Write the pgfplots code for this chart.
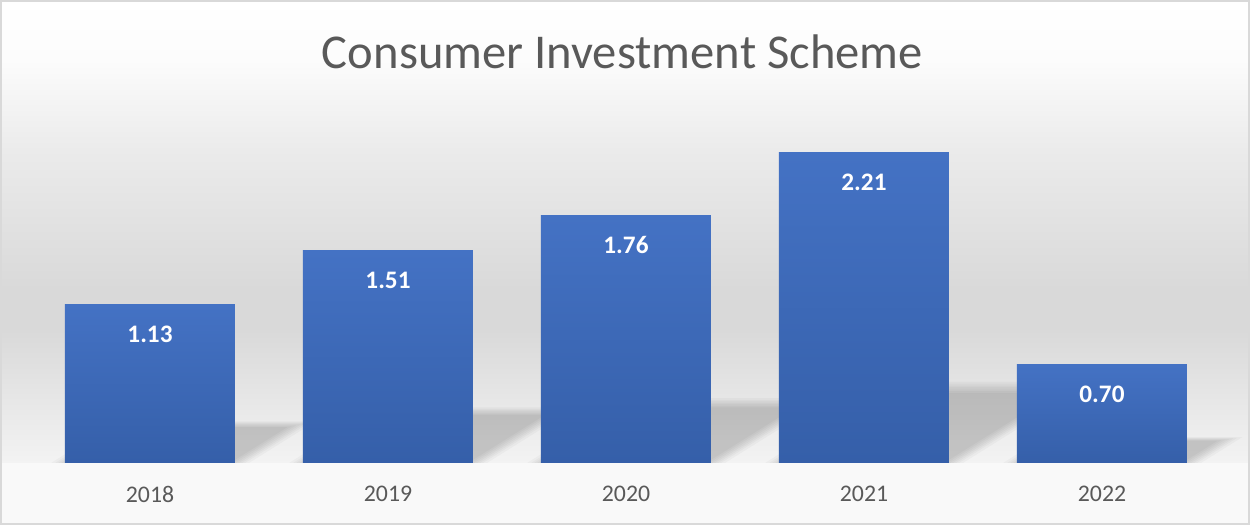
\documentclass[border=0pt]{standalone}
\usepackage{fontspec}
\setmainfont{Carlito}
\usepackage{pgfplots}
\pgfplotsset{compat=1.18}
\definecolor{barTop}{HTML}{4472C4}
\definecolor{barBot}{HTML}{355FA9}
\definecolor{txt}{HTML}{595959}
\definecolor{frame}{HTML}{D9D9D9}
\definecolor{floorc}{HTML}{F9F9F9}
\definecolor{bgA}{HTML}{FFFFFF}
\definecolor{bgB}{HTML}{FCFCFC}
\definecolor{bgC}{HTML}{EBEBEB}
\definecolor{bgD}{HTML}{D9D9D9}
\definecolor{bgE}{HTML}{F3F3F3}
\pgfdeclareverticalshading{chartbg}{100bp}{color(0bp)=(bgE); color(25bp)=(bgE); color(30.9bp)=(bgE); color(43.6bp)=(bgD); color(47.4bp)=(bgD); color(60.7bp)=(bgC); color(69.3bp)=(bgB); color(75bp)=(bgA); color(100bp)=(bgA)}
\pgfplotstableread{
x y
0 1.13
1 1.51
2 1.76
3 2.21
4 0.70
}\datatable
\begin{document}
\begin{tikzpicture}[x=1pt,y=1pt]
\shade[shading=chartbg] (-15.5,-31) rectangle (609.5,231.5);
\fill[floorc] (-15.5,-31) rectangle (609.5,0);
\begin{axis}[
  at={(0,0)}, anchor=south west,
  scale only axis, width=595pt, height=175.875pt,
  xmin=-0.5, xmax=4.5, ymin=0, ymax=2.5,
  clip=false,
  axis line style={draw=none},
  ytick=\empty,
  xtick={0,1,2,3,4},
  xticklabels={2018,2019,2020,2021,2022},
  major tick length=0pt,
  xticklabel style={font=\fontsize{11.9}{14}\selectfont, text=txt, yshift=-8pt},
  title={Consumer Investment Scheme},
  every axis title shift=0pt,
  title style={at={(axis description cs:0.497,1)}, anchor=base, yshift=21.6pt, font=\fontsize{24.3}{29}\selectfont, text=txt},
  nodes near coords={\pgfmathprintnumber[fixed,fixed zerofill,precision=2,assume math mode=true]{\pgfplotspointmeta}},
  nodes near coords style={font=\bfseries\fontsize{12.6}{15}\selectfont, text=white, anchor=center, yshift=-15pt},
  shadow/.style={ybar, bar shift=0pt, draw=none, fill=black, fill opacity=0.026, xslant=1.6, nodes near coords=},
]
% soft perspective shadows (stacked layers)
\addplot[shadow, bar width=99pt, yscale=0.262] table {\datatable};
\addplot[shadow, bar width=95pt, yscale=0.255] table {\datatable};
\addplot[shadow, bar width=92pt, yscale=0.249] table {\datatable};
\addplot[shadow, bar width=89pt, yscale=0.243] table {\datatable};
\addplot[shadow, bar width=86pt, yscale=0.237] table {\datatable};
\addplot[shadow, bar width=83pt, yscale=0.231] table {\datatable};
\addplot[shadow, bar width=80pt, yscale=0.225] table {\datatable};
% bars
\addplot[ybar, bar width=85pt, bar shift=0pt, draw=none, top color=barTop, bottom color=barBot] coordinates {(0,1.13)};
\addplot[ybar, bar width=85pt, bar shift=0pt, draw=none, top color=barTop, bottom color=barBot] coordinates {(1,1.51)};
\addplot[ybar, bar width=85pt, bar shift=0pt, draw=none, top color=barTop, bottom color=barBot] coordinates {(2,1.76)};
\addplot[ybar, bar width=85pt, bar shift=0pt, draw=none, top color=barTop, bottom color=barBot] coordinates {(3,2.21)};
\addplot[ybar, bar width=85pt, bar shift=0pt, draw=none, top color=barTop, bottom color=barBot] coordinates {(4,0.70)};
\end{axis}
\draw[frame, line width=0.75pt] (-15.1,-30.6) rectangle (609.1,231.1);
\pgfresetboundingbox
\path (-15.5,-31) rectangle (609.5,231.5);
\end{tikzpicture}
\end{document}
